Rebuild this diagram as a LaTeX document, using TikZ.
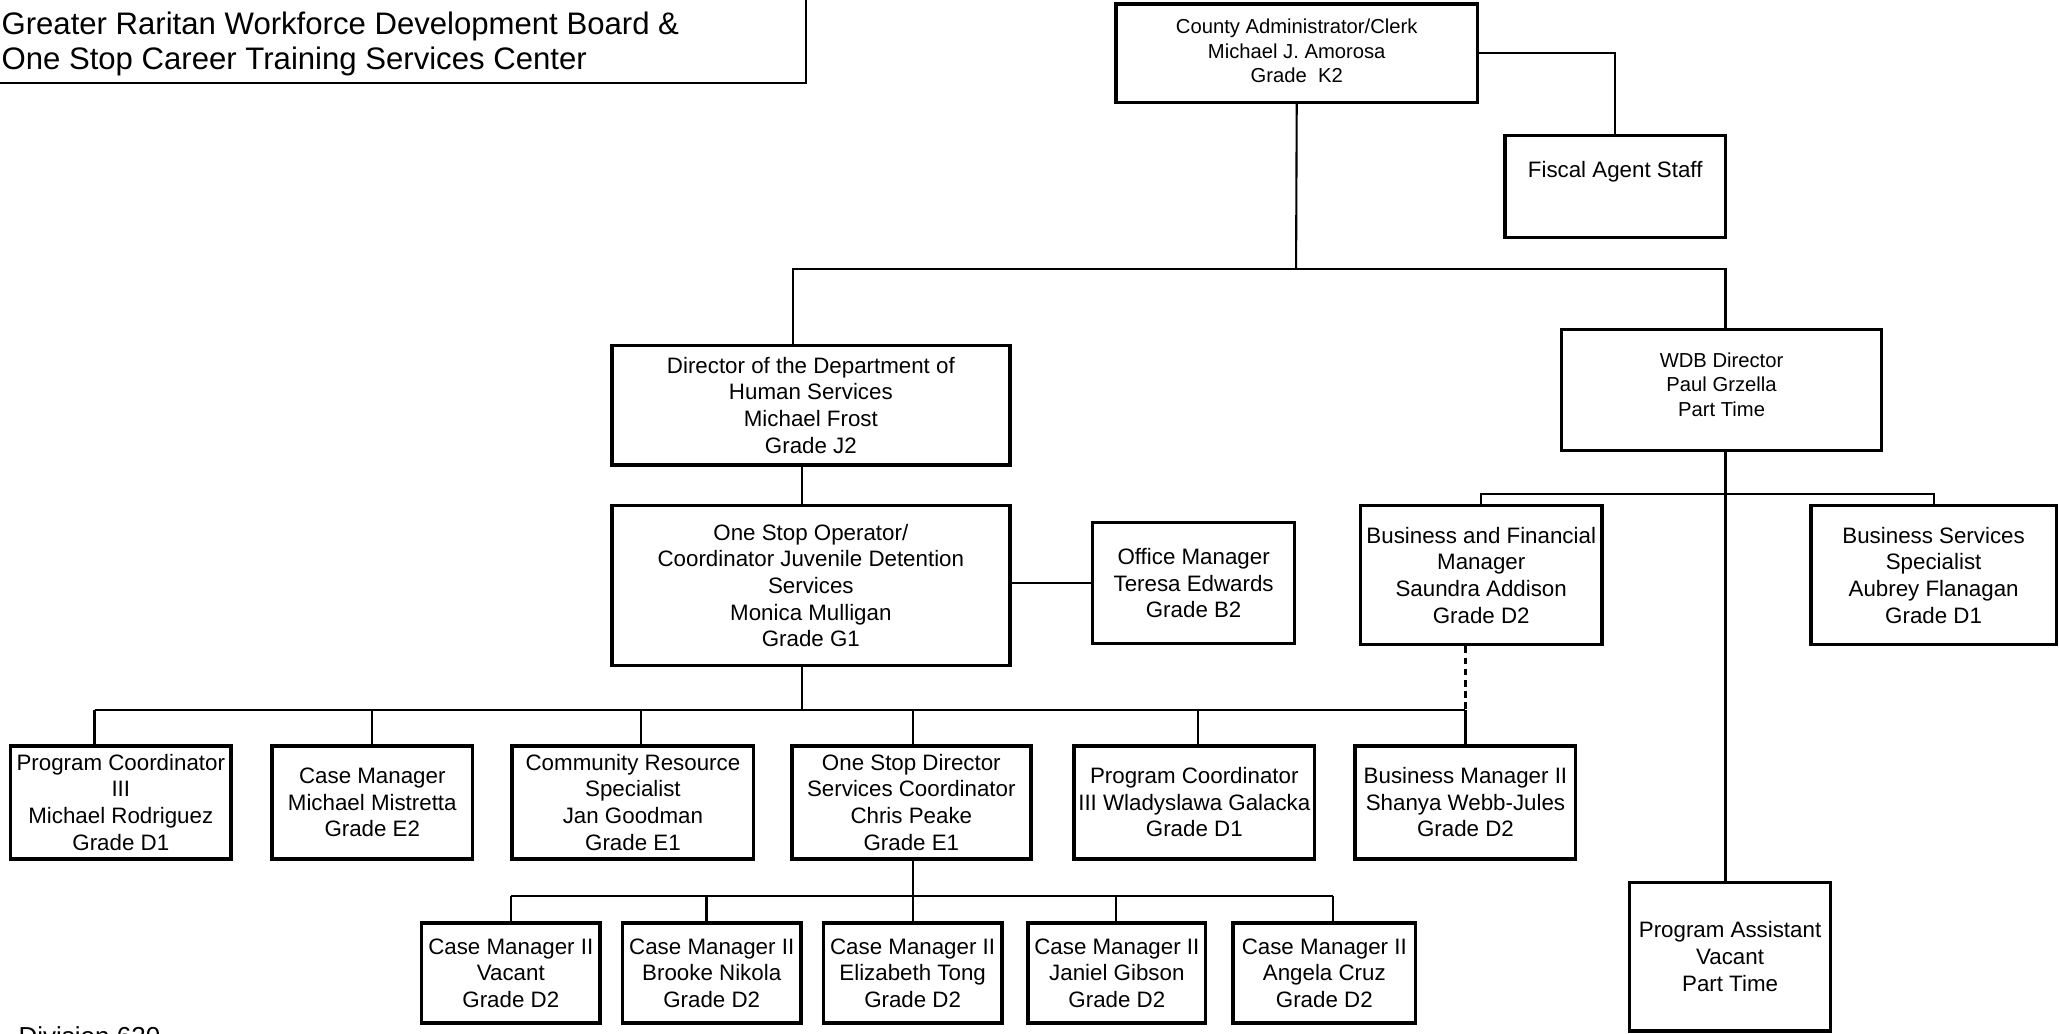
\documentclass[tikz,border=0pt]{standalone}
\usepackage{fontspec}
\setmainfont{Liberation Sans}
\newcommand{\ob}[7][box]{\node[#1, minimum width={(#5-#3)*1pt}, minimum height={(#6-#4)*1pt}] (#2) at ({(#3+#5)/2},{(#4+#6)/2}) {#7};}
\begin{document}
\begin{tikzpicture}[x=1pt,y=-1pt,
  box/.style={draw, line width=2.6pt, align=center, inner sep=1pt, font=\fontsize{17}{20.3}\selectfont},
  smallbox/.style={box, font=\fontsize{15.4}{18.5}\selectfont},
  tbox/.style={draw, line width=1.4pt, inner sep=0pt},
  conn/.style={line width=1.6pt},
  dconn/.style={line width=1.7pt, dash pattern=on 5pt off 3.5pt}]
\fill[white] (0,0) rectangle (1568,787);
\useasboundingbox (0,0) rectangle (1568,787);

% title
\ob[tbox]{titlebox}{-20}{-40}{614}{63}{}
\node[anchor=west, align=left, inner sep=0pt, font=\fontsize{23.7}{26}\selectfont] (title) at (1,33.5)
  {Greater Raritan Workforce Development Board \&\\One Stop Career Training Services Center};
\node[anchor=base west, inner sep=0pt, font=\fontsize{19.8}{22}\selectfont] (div) at (14,796) {Division 620};

% boxes
\ob[smallbox]{county}{850}{3}{1125}{78}{County Administrator/Clerk\\Michael J. Amorosa\\Grade\ \ K2\\[-15pt]\mbox{}}
\ob{fiscal}{1146}{103}{1314}{181}{Fiscal Agent Staff\\\strut}
\ob{dir}{466}{263}{769}{354}{Director of the Department of\\Human Services\\Michael Frost\\Grade J2}
\ob{osop}{466}{385}{769}{507}{One Stop Operator/\\Coordinator Juvenile Detention\\Services\\Monica Mulligan\\Grade G1}
\ob{office}{832}{398}{986}{490}{Office Manager\\Teresa Edwards\\Grade B2}
\ob[smallbox]{wdb}{1189}{251}{1433}{343}{WDB Director\\Paul Grzella\\Part Time\\[-10pt]\mbox{}}
\ob{bfm}{1036}{385}{1220}{491}{Business and Financial\\Manager\\Saundra Addison\\Grade D2}
\ob{bss}{1379}{385}{1566}{491}{Business Services\\Specialist\\Aubrey Flanagan\\Grade D1}
\ob{pa}{1241}{672}{1394}{785}{Program Assistant\\Vacant\\Part Time}

\ob{pc1}{8}{568}{176}{654}{Program Coordinator\\III\\Michael Rodriguez\\Grade D1}
\ob{cm}{207}{568}{360}{654}{Case Manager\\Michael Mistretta\\Grade E2}
\ob{crs}{390}{568}{574}{654}{Community Resource\\Specialist\\Jan Goodman\\Grade E1}
\ob{osd}{603}{568}{785}{654}{One Stop Director\\Services Coordinator\\Chris Peake\\Grade E1}
\ob{pc2}{818}{568}{1001}{654}{Program Coordinator\\III Wladyslawa Galacka\\Grade D1}
\ob{bm2}{1032}{568}{1200}{654}{Business Manager II\\Shanya Webb-Jules\\Grade D2}

\ob{cm1}{321}{703}{457}{779}{Case Manager II\\Vacant\\Grade D2}
\ob{cm2}{474}{703}{610}{779}{Case Manager II\\Brooke Nikola\\Grade D2}
\ob{cm3}{627}{703}{763}{779}{Case Manager II\\Elizabeth Tong\\Grade D2}
\ob{cm4}{783}{703}{918}{779}{Case Manager II\\Janiel Gibson\\Grade D2}
\ob{cm5}{939}{703}{1078}{779}{Case Manager II\\Angela Cruz\\Grade D2}

% connectors
\coordinate (j1) at (987,205);
\coordinate (jL) at (604,205);
\coordinate (jR) at (1314,205);
\draw[conn] (county.south) -- (j1);
\draw[conn] (jL |- dir.north) -- (jL) -- (jR) -- (jR |- wdb.north);
\draw[conn] (county.east) -| (fiscal.north);

\coordinate (a1) at (611,541);
\draw[conn] (a1 |- dir.south) -- (a1 |- osop.north);
\draw[conn] (office.west -| osop.east) -- (office.west);
\draw[conn] (a1 |- osop.south) -- (a1);

\foreach \n/\x in {pc1/72, cm/283, crs/488, osd/695, pc2/912, bm2/1116}{
  \coordinate (d\n) at (\x,541);
  \draw[conn] (d\n) -- (d\n |- \n.north);
}
\draw[conn] (dpc1) -- (dbm2);
\draw[dconn] (dbm2 |- bfm.south) -- (dbm2);

\foreach \n/\x in {cm1/389, cm2/538, cm3/695, cm4/850, cm5/1015}{
  \coordinate (e\n) at (\x,682);
  \draw[conn] (e\n) -- (e\n |- \n.north);
}
\draw[conn] (ecm1) -- (ecm5);
\draw[conn] (ecm3 |- osd.south) -- (ecm3);

\coordinate (w) at (1314,376);
\draw[conn] (w |- wdb.south) -- (w |- pa.north);
\draw[conn] (bfm.north) |- (w) -| (bss.north);
\end{tikzpicture}
\end{document}
